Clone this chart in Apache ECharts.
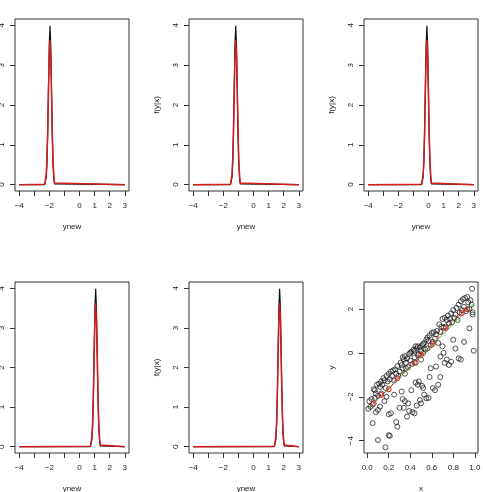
<!DOCTYPE html>
<html>
<head>
<meta charset="utf-8">
<script src="https://cdn.jsdelivr.net/npm/echarts@6/dist/echarts.min.js"></script>
<style>
  html, body { margin: 0; padding: 0; background: #fff; }
  #chart { width: 483px; height: 492px; }
</style>
</head>
<body>
<div id="chart"></div>
<script>
// conditional density panels: peak locations (ynew)
const densityCenters = [-1.96, -1.18, -0.11, 1.07, 1.73];
// ynew offsets around each peak, and the two curves there
const peakOffsets = [-0.35, -0.3, -0.25, -0.2, -0.15, -0.1, -0.05, 0, 0.05, 0.1, 0.15, 0.2, 0.25, 0.3, 0.35];
const trueDensity = [0.0, 0.02, 0.18, 0.54, 1.3, 2.42, 3.52, 3.99, 3.52, 2.42, 1.3, 0.54, 0.18, 0.02, 0.0];
const fittedDensity = [0.01, 0.04, 0.25, 0.65, 1.36, 2.36, 3.22, 3.63, 3.22, 2.36, 1.36, 0.65, 0.25, 0.04, 0.01];
const ynewRange = [-4, 3];

const xTicks = [-4, -3, -2, -1, 0, 1, 2, 3];
const xTickLabels = [-4, -2, 0, 1, 2, 3];
const yTicks = [0, 1, 2, 3, 4];

// scatter panel
const bandPoints = [
  [0.01, -2.55], [0.02, -2.2], [0.03, -2.45], [0.04, -2.1], [0.05, -2.35], [0.06, -1.65], [0.07, -1.7],
  [0.07, -2.05], [0.08, -1.85], [0.09, -1.45], [0.1, -1.95], [0.11, -1.4], [0.12, -1.55], [0.13, -1.3],
  [0.13, -1.85], [0.14, -1.45], [0.15, -1.15], [0.16, -1.25], [0.17, -1.6], [0.18, -1.05], [0.19, -1.3],
  [0.2, -0.95], [0.21, -1.2], [0.22, -0.85], [0.23, -1.05], [0.24, -0.8], [0.25, -1.25], [0.26, -0.75],
  [0.27, -0.95], [0.28, -0.6], [0.29, -1.05], [0.3, -0.85], [0.31, -0.45], [0.32, -0.55], [0.33, -0.2],
  [0.33, -0.7], [0.34, -0.3], [0.35, -0.95], [0.35, -0.15], [0.36, -0.45], [0.36, -0.7], [0.37, -0.25],
  [0.38, -0.65], [0.39, -0.05], [0.4, -0.35], [0.4, 0.0], [0.41, 0.05], [0.42, -0.5], [0.43, 0.15],
  [0.44, -0.2], [0.44, 0.1], [0.45, 0.3], [0.45, -0.45], [0.46, 0.2], [0.47, 0.3], [0.47, -0.1],
  [0.48, -0.05], [0.49, 0.25], [0.5, -0.3], [0.5, 0.1], [0.51, 0.35], [0.52, 0.0], [0.52, 0.4],
  [0.53, 0.45], [0.54, 0.15], [0.55, 0.6], [0.56, 0.2], [0.56, 0.7], [0.57, 0.55], [0.58, 0.8],
  [0.59, 0.35], [0.6, 0.9], [0.61, 0.5], [0.62, 0.95], [0.63, 0.65], [0.64, 0.85], [0.65, 1.0],
  [0.66, 0.45], [0.67, 1.3], [0.68, 0.95], [0.69, 1.2], [0.7, 1.55], [0.71, 1.15], [0.72, 1.6],
  [0.73, 1.2], [0.74, 1.5], [0.75, 1.7], [0.76, 1.35], [0.77, 1.55], [0.78, 1.8], [0.79, 1.4],
  [0.8, 1.95], [0.81, 1.6], [0.82, 1.75], [0.83, 2.05], [0.84, 1.5], [0.85, 2.2], [0.86, 1.85],
  [0.87, 2.35], [0.88, 1.95], [0.89, 2.45], [0.9, 2.1], [0.91, 2.5], [0.92, 1.9], [0.93, 2.55],
  [0.94, 2.3], [0.95, 2.0], [0.96, 2.4], [0.97, 2.2], [0.975, 2.92], [0.98, 1.85], [0.98, 1.75]
];
const lowerPoints = [
  [0.05, -3.2], [0.08, -2.7], [0.1, -3.97], [0.1, -2.6], [0.12, -2.45], [0.16, -2.2], [0.17, -4.3],
  [0.18, -2.0], [0.2, -3.75], [0.21, -3.78], [0.2, -2.8], [0.22, -2.75], [0.25, -1.9], [0.27, -3.15],
  [0.28, -3.36], [0.3, -2.5], [0.32, -1.76], [0.33, -2.1], [0.34, -2.5], [0.35, -2.2], [0.37, -2.9],
  [0.38, -2.3], [0.39, -2.65], [0.41, -1.7], [0.42, -2.7], [0.44, -2.75], [0.45, -1.35], [0.46, -2.4],
  [0.47, -1.45], [0.48, -1.3], [0.49, -2.15], [0.5, -2.3], [0.51, -1.5], [0.52, -1.6], [0.53, -1.9],
  [0.55, -2.07], [0.57, -2.05], [0.58, -1.1], [0.59, -0.7], [0.61, -1.6], [0.63, -1.7], [0.64, -0.62],
  [0.66, -1.45], [0.68, -1.1], [0.68, -0.17], [0.7, 0.3], [0.71, 0.0], [0.72, -0.45], [0.74, -0.3],
  [0.76, -0.55], [0.78, -0.4], [0.8, 0.6], [0.82, 0.2], [0.85, -0.25], [0.87, -0.3], [0.9, 0.5],
  [0.95, 1.12], [0.99, 0.1]
];
const fitX = [0.06, 0.13, 0.2, 0.28, 0.44, 0.5, 0.61, 0.73, 0.88, 0.93];
const fitY = [-2.3, -1.92, -1.66, -1.16, -0.44, -0.09, 0.41, 1.13, 1.81, 1.99];
const trueLineX = [0.01, 0.99];
const trueLineY = [-2.55, 2.24];

const scatterXTicks = [0, 0.2, 0.4, 0.6, 0.8, 1.0];
const scatterYTicks = [-4, -2, 0, 2];

const minus = (v) => String(v).replace("-", "\u2212");
const font = "Liberation Sans, Arial, sans-serif";
const textColor = "#222";

const lefts = [15, 189, 364];
const tops = [19, 282];
const boxW = 114;
const boxH = 172;

const grids = [];
const xAxes = [];
const yAxes = [];
const series = [];

function addPanel(idx, xOpt, yOpt) {
  const col = idx % 3;
  const row = Math.floor(idx / 3);
  grids.push({
    left: lefts[col], top: tops[row], width: boxW, height: row === 0 ? boxH : 171,
    containLabel: false, outerBoundsMode: "none",
    show: true, borderColor: "#333", borderWidth: 1, backgroundColor: "transparent",
  });
  xAxes.push(Object.assign({
    gridIndex: idx, type: "value", nameLocation: "middle", nameGap: 32,
    nameTextStyle: { fontFamily: font, fontSize: 8, color: textColor },
    axisLine: { show: false, onZero: false },
    axisTick: { show: true, inside: false, length: 5, lineStyle: { color: "#333" }, customValues: xOpt.ticks },
    axisLabel: { fontFamily: font, fontSize: 8, color: textColor, margin: 11, customValues: xOpt.labels, formatter: xOpt.fmt },
    splitLine: { show: false },
  }, xOpt.extra));
  yAxes.push(Object.assign({
    gridIndex: idx, type: "value", nameLocation: "middle", nameGap: 28,
    nameTextStyle: { fontFamily: font, fontSize: 8, color: textColor },
    axisLine: { show: false, onZero: false },
    axisTick: { show: true, inside: false, length: 5, lineStyle: { color: "#333" }, customValues: yOpt.ticks },
    axisLabel: { fontFamily: font, fontSize: 8, color: textColor, margin: 9, rotate: 90, customValues: yOpt.labels, formatter: yOpt.fmt },
    splitLine: { show: false },
  }, yOpt.extra));
}

densityCenters.forEach((c, i) => {
  addPanel(i,
    { ticks: xTicks, labels: xTickLabels, fmt: minus, extra: { name: "ynew", min: -4.28, max: 3.28 } },
    { ticks: yTicks, labels: yTicks, fmt: minus, extra: { name: "f(y|x)", min: -0.16, max: 4.16 } });
  const build = (vals) => [[ynewRange[0], 0]]
    .concat(peakOffsets.map((o, k) => [c + o, vals[k]]))
    .concat([[ynewRange[1], 0]]);
  series.push({
    type: "line", xAxisIndex: i, yAxisIndex: i, data: build(trueDensity),
    showSymbol: false, lineStyle: { color: "#111", width: 1.2 }, z: 2,
  });
  series.push({
    type: "line", xAxisIndex: i, yAxisIndex: i, data: build(fittedDensity),
    showSymbol: false, lineStyle: { color: "#d41c1c", width: 1.5 }, z: 3,
  });
});

addPanel(5,
  { ticks: scatterXTicks, labels: scatterXTicks, fmt: (v) => v.toFixed(1), extra: { name: "x", min: -0.03, max: 1.03 } },
  { ticks: scatterYTicks, labels: scatterYTicks, fmt: minus, extra: { name: "y", min: -4.56, max: 3.23 } });

series.push({
  type: "scatter", xAxisIndex: 5, yAxisIndex: 5, data: bandPoints.concat(lowerPoints),
  symbol: "circle", symbolSize: 5,
  itemStyle: { color: "rgba(0,0,0,0)", borderColor: "#111", borderWidth: 0.9 }, z: 2,
});
series.push({
  type: "line", xAxisIndex: 5, yAxisIndex: 5,
  data: trueLineX.map((x, k) => [x, trueLineY[k]]),
  showSymbol: false, lineStyle: { color: "#33cc33", width: 1 }, z: 3,
});
series.push({
  type: "line", xAxisIndex: 5, yAxisIndex: 5,
  data: fitX.map((x, k) => [x, fitY[k]]),
  symbol: "circle", symbolSize: 5, showSymbol: true,
  itemStyle: { color: "rgba(0,0,0,0)", borderColor: "#dd2222", borderWidth: 1 },
  lineStyle: { color: "#dd2222", width: 1, type: "dashed" }, z: 4,
});

const chart = echarts.init(document.getElementById("chart"), null, { renderer: "canvas" });
chart.setOption({
  animation: false,
  backgroundColor: "#fff",
  grid: grids,
  xAxis: xAxes,
  yAxis: yAxes,
  series: series,
});
</script>
</body>
</html>
